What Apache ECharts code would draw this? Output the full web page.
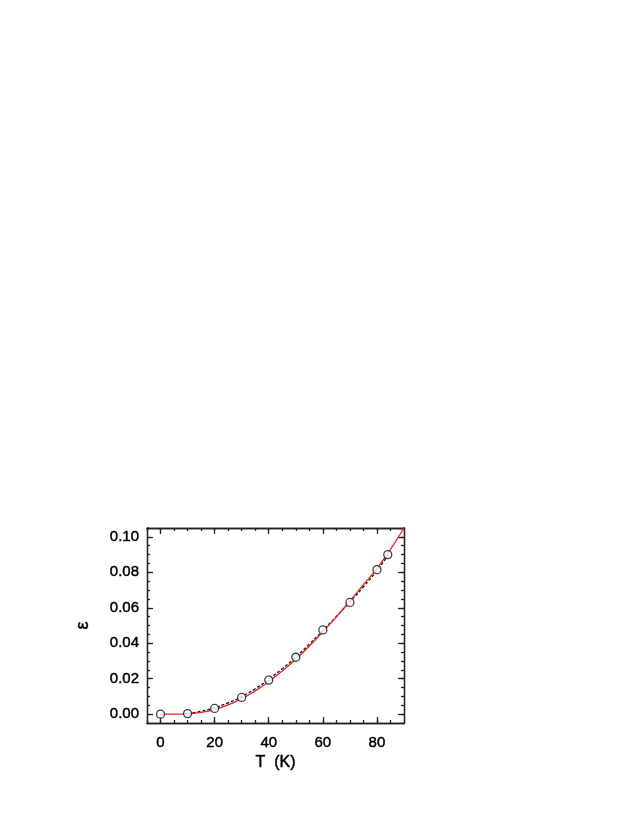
<!DOCTYPE html>
<html>
<head>
<meta charset="utf-8">
<script src="https://cdn.jsdelivr.net/npm/echarts@6/dist/echarts.min.js"></script>
<style>
  html, body { margin: 0; padding: 0; background: #fff; }
  #chart { width: 638px; height: 825px; }
</style>
</head>
<body>
<div id="chart"></div>
<script>
// measured points (open circles)
var tData = [0, 10, 20, 30, 40, 50, 60, 70, 80, 84];
var epsData = [0.0000, 0.0003, 0.0032, 0.0094, 0.0192, 0.0321, 0.0475, 0.0630, 0.0815, 0.0900];

// red solid curve
var fitT = [0, 5, 10, 15, 20, 25, 30, 35, 40, 45, 50, 55, 60, 65, 70, 75, 80, 85, 90];
var fitEps = [0.0000, 0.0000, 0.0002, 0.0010, 0.0026, 0.0052, 0.0087, 0.0131, 0.0184, 0.0243, 0.0310, 0.0384, 0.0464, 0.0549, 0.0638, 0.0730, 0.0822, 0.0930, 0.1050];

// black dashed curve
var dashT = [10, 15, 20, 25, 30, 35, 40, 45, 50, 55, 60, 65, 70, 75, 80, 84];
var dashEps = [0.0003, 0.0016, 0.0036, 0.0064, 0.0099, 0.0143, 0.0196, 0.0256, 0.0322, 0.0395, 0.0472, 0.0551, 0.0633, 0.0718, 0.0810, 0.0895];

var xTicks = [0, 20, 40, 60, 80];
var yTicks = [0, 0.02, 0.04, 0.06, 0.08, 0.10];

var xMin = -5, xMax = 90, yMin = -0.005, yMax = 0.105;

var xMinor = [];
for (var i = 0; i <= 18; i++) xMinor.push(-5 + i * 5);
var yMinor = [];
for (var j = 0; j <= 21; j++) yMinor.push(Math.round((j * 0.005) * 1000) / 1000);

var font = 'Liberation Sans, Arial, Helvetica, sans-serif';
var lineStyle = { color: '#222', width: 1.3 };
// slightly heavier than regular, like the original's Helvetica
var txt = { fontFamily: font, color: '#000', textBorderColor: '#000', textBorderWidth: 0.45 };

function xAx(pos, ticks, len, labels) {
  return {
    type: 'value', position: pos, min: xMin, max: xMax,
    axisLine: { show: true, onZero: false, lineStyle: lineStyle },
    axisTick: { show: true, inside: true, length: len, customValues: ticks, lineStyle: lineStyle },
    axisLabel: labels ? Object.assign({
      show: true, customValues: xTicks, margin: 12, fontSize: 15
    }, txt) : { show: false },
    splitLine: { show: false }
  };
}
function yAx(pos, ticks, len, labels) {
  return {
    type: 'value', position: pos, min: yMin, max: yMax,
    axisLine: { show: true, onZero: false, lineStyle: lineStyle },
    axisTick: { show: true, inside: true, length: len, customValues: ticks, lineStyle: lineStyle },
    axisLabel: labels ? Object.assign({
      show: true, customValues: yTicks, margin: 8, fontSize: 15,
      formatter: function (v) { return v.toFixed(2); }
    }, txt) : { show: false },
    splitLine: { show: false }
  };
}

var chart = echarts.init(document.getElementById('chart'));

var xs = [
  xAx('bottom', xMinor, 3, false),
  xAx('bottom', xTicks, 6, true),
  xAx('top', xMinor, 3, false),
  xAx('top', xTicks, 6, false)
];
xs[1].name = 'T  (K)';
xs[1].nameLocation = 'middle';
xs[1].nameGap = 32;
xs[1].nameTextStyle = Object.assign({ fontSize: 16 }, txt);

var ys = [
  yAx('left', yMinor, 3, false),
  yAx('left', yTicks, 6, true),
  yAx('right', yMinor, 3, false),
  yAx('right', yTicks, 6, false)
];
ys[1].name = 'ε';
ys[1].nameLocation = 'middle';
ys[1].nameRotate = 90;
ys[1].nameGap = 55;
ys[1].nameTextStyle = Object.assign({ fontSize: 18 }, txt);

var option = {
  animation: false,
  backgroundColor: '#fff',
  grid: { left: 147, right: 234, top: 528, bottom: 102, containLabel: false },
  xAxis: xs,
  yAxis: ys,
  series: [
    {
      name: 'dashed', type: 'line', xAxisIndex: 1, yAxisIndex: 1,
      data: dashT.map(function (t, k) { return [t, dashEps[k]]; }),
      showSymbol: false, smooth: true, z: 2,
      lineStyle: { color: '#111', width: 1.3, type: [3, 2] }
    },
    {
      name: 'fit', type: 'line', xAxisIndex: 1, yAxisIndex: 1,
      data: fitT.map(function (t, k) { return [t, fitEps[k]]; }),
      showSymbol: false, smooth: true, z: 3,
      lineStyle: { color: '#e8231f', width: 1.3 }
    },
    {
      name: 'data', type: 'scatter', xAxisIndex: 1, yAxisIndex: 1,
      data: tData.map(function (t, k) { return [t, epsData[k]]; }),
      symbol: 'circle', symbolSize: 8, z: 4,
      itemStyle: { color: '#fff', borderColor: '#111', borderWidth: 1.3 }
    }
  ]
};

chart.setOption(option);
</script>
</body>
</html>
